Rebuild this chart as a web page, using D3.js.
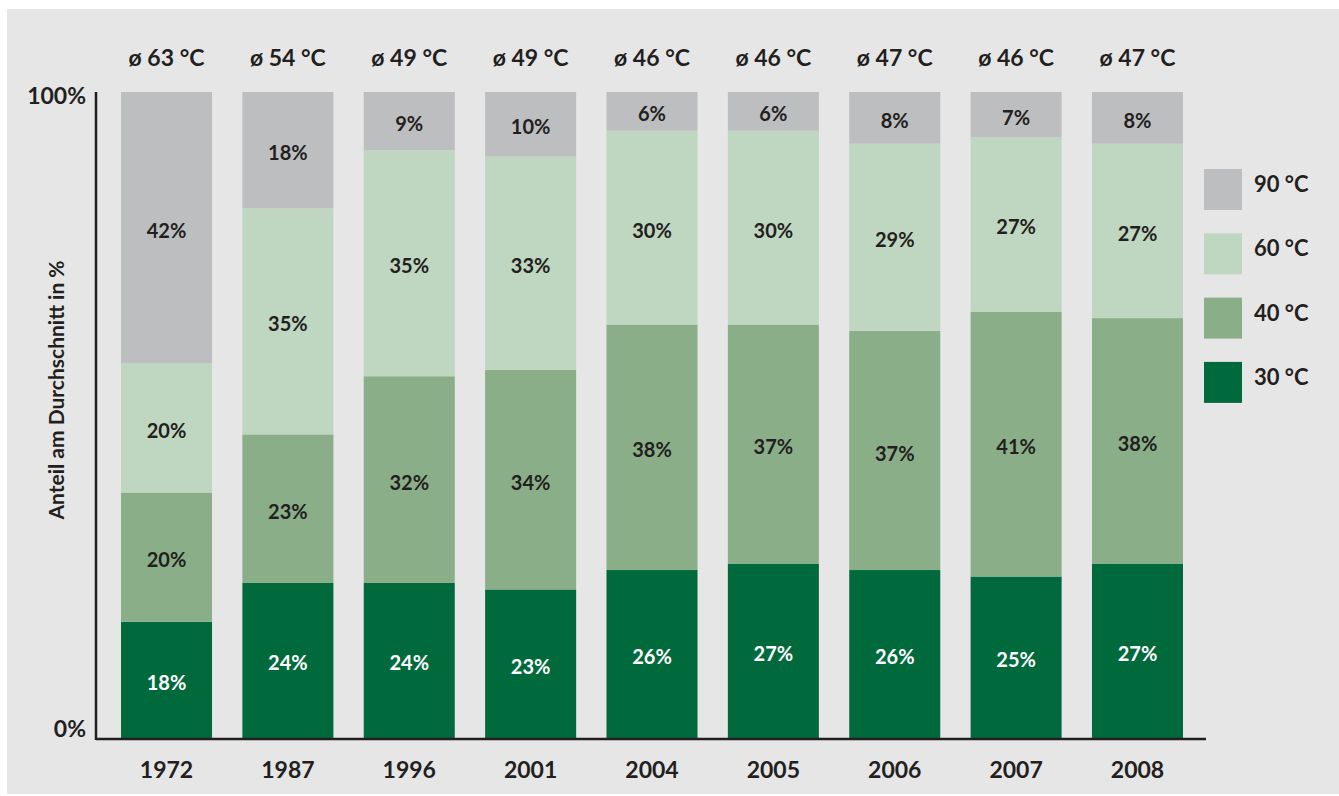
<!DOCTYPE html>
<html>
<head>
<meta charset="utf-8">
<script src="https://cdn.jsdelivr.net/npm/d3@7"></script>
<style>
  body { margin: 0; background: #fff; }
  text { font-family: Lato, "Open Sans", sans-serif; font-weight: 700; fill: #231f20; }
</style>
</head>
<body>
<script>
//data
var years = ["1972", "1987", "1996", "2001", "2004", "2005", "2006", "2007", "2008"];
var avgTemp = [63, 54, 49, 49, 46, 46, 47, 46, 47];
var keys = ["30 °C", "40 °C", "60 °C", "90 °C"];
var s30 = [18, 24, 24, 23, 26, 27, 26, 25, 27];
var s40 = [20, 23, 32, 34, 38, 37, 37, 41, 38];
var s60 = [20, 35, 35, 33, 30, 30, 29, 27, 27];
var s90 = [42, 18, 9, 10, 6, 6, 8, 7, 8];
var yTicks = [0, 100];

var colors = ["#006a3c", "#8aae88", "#bfd6c0", "#bdbec0"];
var labelColors = ["#ffffff", "#231f20", "#231f20", "#231f20"];

var W = 1339, H = 796;

var rows = years.map(function(y, i) {
    return { year: y, "30 °C": s30[i], "40 °C": s40[i], "60 °C": s60[i], "90 °C": s90[i] };
});
var stacked = d3.stack().keys(keys)(rows);

var xScale = d3.scaleBand()
               .domain(years)
               .range([121, 1183])
               .paddingInner(0.25)
               .paddingOuter(0);

var yScale = d3.scaleLinear()
               .domain([0, 100])
               .range([738, 92]);

var _svg = d3.select("body")
             .append("svg")
             .attr("width", W)
             .attr("height", H);

    //grey panel
    _svg.append("rect")
        .attr("x", 7).attr("y", 9)
        .attr("width", W - 7).attr("height", 785)
        .attr("fill", "#e6e6e6");

//bars
var layers = _svg.append("g")
                 .selectAll("g")
                 .data(stacked)
                 .enter()
                 .append("g")
                 .attr("fill", function(d, i) { return colors[i]; });

    layers.selectAll("rect")
          .data(function(d) { return d; })
          .enter()
          .append("rect")
          .attr("x", function(d) { return xScale(d.data.year); })
          .attr("y", function(d) { return yScale(d[1]); })
          .attr("width", xScale.bandwidth())
          .attr("height", function(d) { return yScale(d[0]) - yScale(d[1]); });

    //value labels
    layers.selectAll("text")
          .data(function(d, i) { return d.map(function(p) { p.k = i; return p; }); })
          .enter()
          .append("text")
          .attr("x", function(d) { return xScale(d.data.year) + xScale.bandwidth() / 2; })
          .attr("y", function(d) { return (yScale(d[0]) + yScale(d[1])) / 2; })
          .attr("dy", "0.5em")
          .attr("text-anchor", "middle")
          .style("font-size", "20px")
          .style("fill", function(d) { return labelColors[d.k]; })
          .text(function(d) { return (d[1] - d[0]) + "%"; });

//axes
var xAxis = d3.axisBottom(xScale).tickSize(0).tickPadding(24);
var yAxis = d3.axisLeft(yScale).tickValues(yTicks).tickSize(0).tickPadding(10)
              .tickFormat(function(d) { return d + "%"; });

var gx = _svg.append("g")
             .attr("transform", "translate(0,738)")
             .call(xAxis);
    gx.select(".domain").remove();
    gx.selectAll("text").style("font-size", "23px").attr("font-family", null);

    _svg.append("line")
        .attr("x1", 96).attr("x2", 1206)
        .attr("y1", 739).attr("y2", 739)
        .attr("stroke", "#231f20").attr("stroke-width", 2.5);

var gy = _svg.append("g")
             .attr("transform", "translate(96,0)")
             .call(yAxis);
    gy.select(".domain").remove();
    gy.selectAll("text").style("font-size", "23px").attr("font-family", null)
      .attr("dy", function(d) { return d === 0 ? "-0.05em" : "0.5em"; });

    _svg.append("line")
        .attr("x1", 96).attr("x2", 96)
        .attr("y1", 92).attr("y2", 740)
        .attr("stroke", "#231f20").attr("stroke-width", 2.5);

//average temperature above bars
    _svg.append("g")
        .selectAll("text")
        .data(years)
        .enter()
        .append("text")
        .attr("x", function(d) { return xScale(d) + xScale.bandwidth() / 2; })
        .attr("y", 66)
        .attr("text-anchor", "middle")
        .style("font-size", "23px")
        .text(function(d, i) { return "ø " + avgTemp[i] + " °C"; });

//y axis title
    _svg.append("text")
        .attr("transform", "translate(64,390) rotate(-90)")
        .attr("text-anchor", "middle")
        .style("font-size", "21px")
        .text("Anteil am Durchschnitt in %");

//legend
var legend = _svg.append("g")
                 .selectAll("g")
                 .data(keys.slice().reverse())
                 .enter()
                 .append("g")
                 .attr("transform", function(d, i) { return "translate(1204," + (169 + i * 64.3) + ")"; });

    legend.append("rect")
          .attr("width", 38).attr("height", 41)
          .attr("fill", function(d) { return colors[keys.indexOf(d)]; });

    legend.append("text")
          .attr("x", 50).attr("y", 15)
          .attr("dy", "0.36em")
          .style("font-size", "22px")
          .text(function(d) { return d; });
</script>
</body>
</html>
